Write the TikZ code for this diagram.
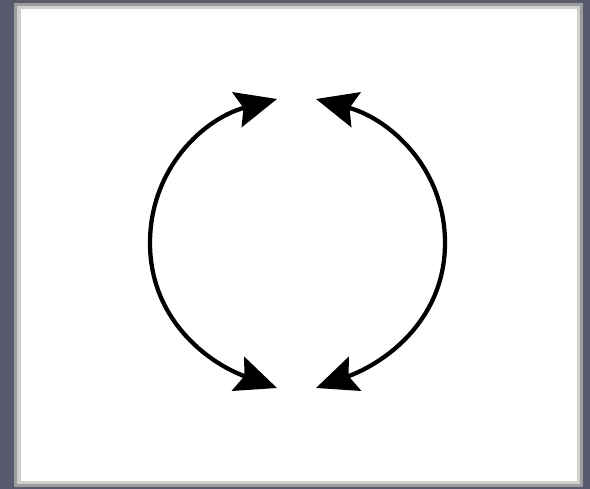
\documentclass[tikz,border=0pt]{standalone}
\usetikzlibrary{arrows.meta}
\definecolor{slate}{HTML}{575A6C}
\definecolor{frameA}{HTML}{9C9C9C}
\definecolor{frameB}{HTML}{CFCFCF}
\begin{document}
\begin{tikzpicture}[x=0.75pt,y=0.75pt,
  cyc/.style={line width=3.2pt,
    {Stealth[length=31pt,width=27pt,inset=5pt]}-{Stealth[length=31pt,width=27pt,inset=5pt]}}]
\useasboundingbox (0,0) rectangle (590,489);
\fill[slate] (0,0) rectangle (590,489);
\fill[frameA] (14,2) rectangle (583,486);
\fill[frameB] (17,5) rectangle (580,483);
\fill[white] (21,8) rectangle (577,480);
\coordinate (tl) at (277,390);
\coordinate (ml) at (150,246);
\coordinate (bl) at (277,101);
\coordinate (tr) at (316,390);
\coordinate (mr) at (445,246);
\coordinate (br) at (316,101);
\draw[cyc] (tl) to[out=195,in=90] (ml) to[out=-90,in=160] (bl);
\draw[cyc] (tr) to[out=-15,in=90] (mr) to[out=-90,in=20] (br);
\end{tikzpicture}
\end{document}
